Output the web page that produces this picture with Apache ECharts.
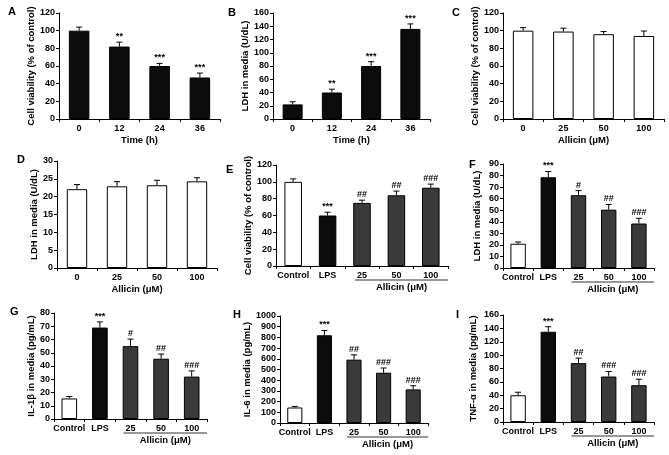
<!DOCTYPE html>
<html><head><meta charset="utf-8">
<script src="https://cdn.jsdelivr.net/npm/echarts@6/dist/echarts.min.js"></script>
<style>html,body{margin:0;padding:0;background:#fff}#c{width:669px;height:455px}</style>
</head><body><div id="c"></div>
<script>
// ---- data ----
const timeCats = ['0', '12', '24', '36'];
const allicinCats = ['0', '25', '50', '100'];
const treatCats = ['Control', 'LPS', '25', '50', '100'];

const viabTime = [100, 82, 60, 47];
const viabTimeErr = [4, 5, 3, 5];
const ldhTime = [22, 40, 80, 136];
const ldhTimeErr = [4, 5, 6.5, 7.5];
const timeSig = ['', '**', '***', '***'];

const viabAllicin = [100, 99, 96, 94];
const viabAllicinErr = [3.4, 3.8, 3, 5.6];
const ldhAllicin = [22.1, 22.9, 23.2, 24.3];
const ldhAllicinErr = [1.3, 1.3, 1.4, 1.0];
const noSig = ['', '', '', ''];

const viabLps = [100, 60, 75, 84, 93];
const viabLpsErr = [3.5, 3.9, 3.2, 5, 4.3];
const viabLpsSig = ['', '***', '##', '##', '###'];
const ldhLps = [21, 78.5, 63, 50.5, 38.5];
const ldhLpsErr = [1.5, 5, 4, 4.5, 4.5];
const ldhLpsSig = ['', '***', '#', '##', '###'];
const il1b = [15.5, 69, 55, 45.5, 32];
const il1bErr = [1.5, 4.3, 5.3, 3.5, 4.3];
const il1bSig = ['', '***', '#', '##', '###'];
const il6 = [145, 820, 592, 470, 314];
const il6Err = [10, 45, 45, 44, 34];
const il6Sig = ['', '***', '##', '###', '###'];
const tnf = [40, 135, 88, 68, 55];
const tnfErr = [4.5, 7.5, 7.5, 7.5, 9];
const tnfSig = ['', '***', '##', '###', '###'];

// ---- layout / style ----
const FONT = '"Liberation Sans Narrow","Arial Narrow","Liberation Sans",Arial,sans-serif';
const WHITE = '#ffffff', BLACK = '#0c0c0c', GRAY = '#3a3a3a';
const lpsColors = [WHITE, BLACK, GRAY, GRAY, GRAY];

const panels = [
  {L:'A', lx:13, ly:12, cats:timeCats, vals:viabTime, errs:viabTimeErr, sig:timeSig, yName:'Cell viability (% of control)', xName:'Time (h)', max:120, step:20, g:[59,13,161,106], gap:21.5, colors:[BLACK,BLACK,BLACK,BLACK]},
  {L:'B', lx:233, ly:13, cats:timeCats, vals:ldhTime, errs:ldhTimeErr, sig:timeSig, yName:'LDH in media (U/dL)', xName:'Time (h)', max:160, step:20, g:[273,13,157,106], gap:22.5, colors:[BLACK,BLACK,BLACK,BLACK]},
  {L:'C', lx:457, ly:13, cats:allicinCats, vals:viabAllicin, errs:viabAllicinErr, sig:noSig, yName:'Cell viability (% of control)', xName:'Allicin (μM)', max:120, step:20, g:[503,13,161,106], gap:22.5, colors:[WHITE,WHITE,WHITE,WHITE]},
  {L:'D', lx:22, ly:160, cats:allicinCats, vals:ldhAllicin, errs:ldhAllicinErr, sig:noSig, yName:'LDH in media (U/dL)', xName:'Allicin (μM)', max:30, step:5, g:[57,161,160,107], gap:17.5, colors:[WHITE,WHITE,WHITE,WHITE]},
  {L:'E', lx:231, ly:170, cats:treatCats, vals:viabLps, errs:viabLpsErr, sig:viabLpsSig, yName:'Cell viability (% of control)', under:true, max:120, step:20, g:[276,165,172,101], gap:21.5, colors:lpsColors},
  {L:'F', lx:474, ly:165, cats:treatCats, vals:ldhLps, errs:ldhLpsErr, sig:ldhLpsSig, yName:'LDH in media (U/dL)', under:true, max:90, step:10, g:[503,164,151,104], gap:20.5, colors:lpsColors},
  {L:'G', lx:15, ly:312, cats:treatCats, vals:il1b, errs:il1bErr, sig:il1bSig, yName:'IL-1β in media (pg/mL)', under:true, max:80, step:10, g:[54,313,153,106], gap:17.5, colors:lpsColors},
  {L:'H', lx:238, ly:315, cats:treatCats, vals:il6, errs:il6Err, sig:il6Sig, yName:'IL-6 in media (pg/mL)', under:true, max:1000, step:100, g:[280,316,148,107], gap:27.5, colors:lpsColors},
  {L:'I', lx:461, ly:315, cats:treatCats, vals:tnf, errs:tnfErr, sig:tnfSig, yName:'TNF-α in media (pg/mL)', under:true, max:160, step:20, g:[503,315,151,107], gap:24.5, colors:lpsColors}
];

const grid = [], xAxis = [], yAxis = [], series = [], graphic = [];
panels.forEach((p, i) => {
  grid.push({left:p.g[0], top:p.g[1], width:p.g[2], height:p.g[3], containLabel:false});
  xAxis.push({
    type:'category', gridIndex:i, data:p.cats,
    axisLine:{lineStyle:{color:'#000', width:1}},
    axisTick:{show:true, length:3, lineStyle:{color:'#000'}},
    axisLabel:{color:'#000', fontFamily:FONT, fontWeight:'bold', fontSize:9, margin:5, interval:0},
    name:p.xName || '', nameLocation:'middle', nameGap:16,
    nameTextStyle:{color:'#000', fontFamily:FONT, fontWeight:'bold', fontSize:9.5}
  });
  yAxis.push({
    type:'value', gridIndex:i, min:0, max:p.max, interval:p.step,
    axisLine:{show:true, lineStyle:{color:'#000', width:1}},
    axisTick:{show:true, length:3, lineStyle:{color:'#000'}},
    splitLine:{show:false},
    axisLabel:{color:'#000', fontFamily:FONT, fontWeight:'bold', fontSize:9, margin:4, formatter:(v) => String(v)},
    name:p.yName, nameLocation:'middle', nameGap:p.gap,
    nameTextStyle:{color:'#000', fontFamily:FONT, fontWeight:'bold', fontSize:9.5}
  });
  series.push({
    type:'bar', xAxisIndex:i, yAxisIndex:i, barWidth:'51%', animation:false,
    data:p.vals.map((v, k) => ({value:v, itemStyle:{color:p.colors[k], borderColor:'#000', borderWidth:1}}))
  });
  const sig = p.sig;
  series.push({
    type:'custom', xAxisIndex:i, yAxisIndex:i, animation:false, z:5,
    data:p.vals.map((v, k) => [k, v, p.errs[k]]),
    renderItem:(params, api) => {
      const k = api.value(0), v = api.value(1), e = api.value(2);
      const b = api.coord([k, v]), t = api.coord([k, v + e]);
      const hw = 3;
      const children = [
        {type:'line', shape:{x1:b[0], y1:b[1], x2:t[0], y2:t[1]}, style:{stroke:'#000', lineWidth:1}},
        {type:'line', shape:{x1:t[0]-hw, y1:t[1], x2:t[0]+hw, y2:t[1]}, style:{stroke:'#000', lineWidth:1}}
      ];
      const s = sig[params.dataIndex];
      if (s) children.push({type:'text', style:{text:s, x:t[0], y:t[1]-1, align:'center', verticalAlign:'bottom', fill:'#000', font:'bold 9px ' + FONT}});
      return {type:'group', children};
    }
  });
  graphic.push({type:'text', left:p.lx - 5, top:p.ly - 6, style:{text:p.L, fill:'#000', font:'bold 11px "Liberation Sans",Arial,sans-serif'}});
});

const chart = echarts.init(document.getElementById('c'), null, {renderer:'canvas'});
chart.setOption({animation:false, backgroundColor:'#fff', grid, xAxis, yAxis, series, graphic});

// underline + "Allicin (μM)" label for the treatment panels
panels.forEach((p, i) => {
  if (!p.under) return;
  const pt = chart.convertToPixel({gridIndex:i}, [2, 0]);
  const x1 = pt[0] - 7, x2 = p.g[0] + p.g[2], y = pt[1] + 14;
  graphic.push({type:'line', shape:{x1, y1:y, x2, y2:y}, style:{stroke:'#333', lineWidth:1}});
  graphic.push({type:'text', x:(x1 + x2) / 2, y:pt[1] + 21, style:{text:'Allicin (μM)', align:'center', verticalAlign:'middle', fill:'#000', font:'bold 9.5px ' + FONT}});
});
chart.setOption({graphic});
</script>
</body></html>
